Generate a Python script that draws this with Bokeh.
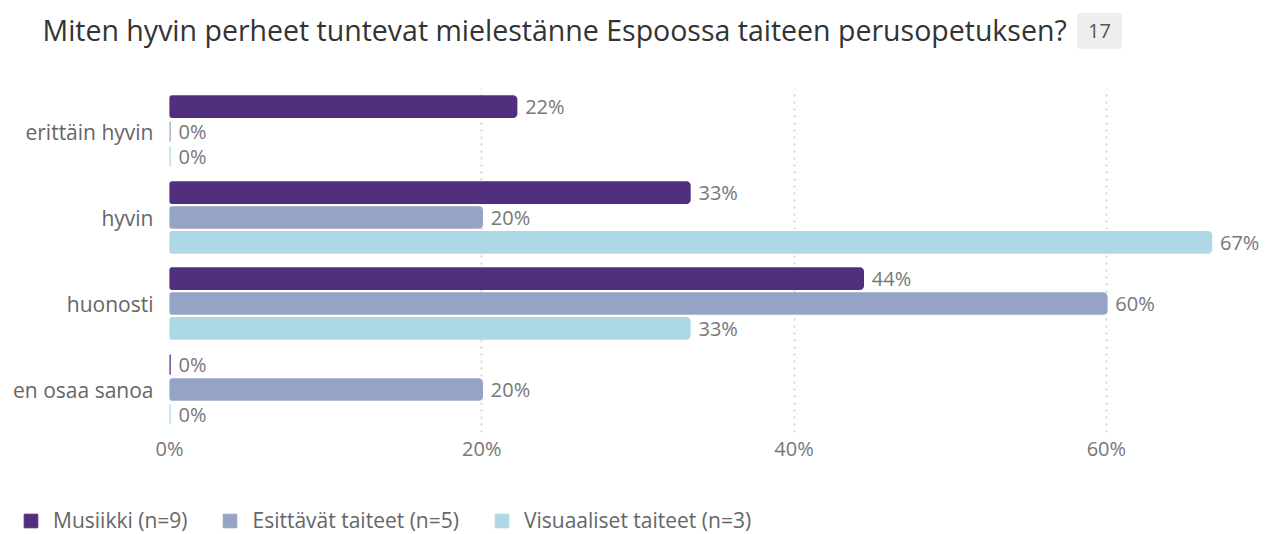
from bokeh.plotting import figure
from bokeh.layouts import column
from bokeh.models import (ColumnDataSource, FactorRange, Range1d, FixedTicker,
                          NumeralTickFormatter, Label, Legend, LegendItem)
from bokeh.transform import dodge
from bokeh.core.properties import value
from bokeh.embed import file_html
from bokeh.resources import INLINE

title_text = "Miten hyvin perheet tuntevat mielestänne Espoossa taiteen perusopetuksen?"
respondents = "17"
categories = ["erittäin hyvin", "hyvin", "huonosti", "en osaa sanoa"]
series_names = ["Musiikki (n=9)", "Esittävät taiteet (n=5)", "Visuaaliset taiteet (n=3)"]
musiikki = [0.222, 0.333, 0.444, 0.0]
esittavat = [0.0, 0.20, 0.60, 0.20]
visuaaliset = [0.0, 0.667, 0.333, 0.0]
series_values = [musiikki, esittavat, visuaaliset]
x_ticks = [0, 0.2, 0.4, 0.6]

colors = ["#512f7f", "#95a4c5", "#add8e6"]
offsets = [0.29, 0.0, -0.29]
FONT = "Open Sans"
W = 1264


def blank(fig):
    fig.axis.visible = False
    fig.grid.grid_line_color = None
    fig.outline_line_color = None
    fig.background_fill_color = "white"
    fig.border_fill_color = "white"


# ---- title strip ----
t = figure(width=W, height=88, output_backend="svg", toolbar_location=None,
           x_range=Range1d(0, W), y_range=Range1d(0, 88), min_border=0,
           frame_align=False)
blank(t)
t.add_layout(Label(x=42, y=59, text=title_text, text_font=FONT,
                   text_font_size="28.5px", text_color="#333333",
                   text_baseline="alphabetic"))
t.add_layout(Label(x=1099, y=57.5, text=respondents, text_font=FONT,
                   text_font_size="20px", text_color="#555555",
                   text_align="center", text_baseline="alphabetic",
                   background_fill_color="#eeeeee", padding=11,
                   border_radius=3))

# ---- main chart ----
p = figure(width=W, height=390, output_backend="svg", toolbar_location=None,
           y_range=FactorRange(*reversed(categories)), x_range=Range1d(0, 0.7013),
           min_border_left=169, min_border_right=0, min_border_top=0,
           min_border_bottom=46, frame_align=False)
p.outline_line_color = None
p.background_fill_color = "white"
p.border_fill_color = "white"

# ---- legend strip ----
lg = figure(width=W, height=56, output_backend="svg", toolbar_location=None,
            x_range=Range1d(0, W), y_range=Range1d(0, 56), min_border=0,
            frame_align=False)
blank(lg)

items = []
for name, vals, col, off in zip(series_names, series_values, colors, offsets):
    src = ColumnDataSource(dict(cat=categories, val=vals,
                                lab=[f"{round(v * 100)}%" for v in vals]))
    p.hbar(y=dodge("cat", off, range=p.y_range), right="val", left=0,
           height=0.235, source=src, fill_color=col, line_color=col,
           line_width=2.5, border_radius=3)
    p.text(x="val", y=dodge("cat", off, range=p.y_range), text="lab", source=src,
           x_offset=9, text_baseline="middle", text_align="left",
           text_font=value(FONT), text_font_size="20px", text_color="#777777")
    # hidden copy of the series in the legend strip, used only as legend key
    r = lg.hbar(y="val", right="val", left=0, height=0.01, source=src,
                fill_color=col, line_color=col, visible=False)
    items.append(LegendItem(label=name, renderers=[r]))

p.xaxis.ticker = FixedTicker(ticks=x_ticks)
p.xaxis.formatter = NumeralTickFormatter(format="0%")
p.xaxis.axis_line_color = None
p.xaxis.major_tick_line_color = None
p.xaxis.minor_tick_line_color = None
p.xaxis.major_tick_out = 0
p.xaxis.major_label_standoff = 2
p.xaxis.major_label_text_font = FONT
p.xaxis.major_label_text_font_size = "20px"
p.xaxis.major_label_text_color = "#777777"

p.yaxis.axis_line_color = None
p.yaxis.major_tick_line_color = None
p.yaxis.major_tick_out = 0
p.yaxis.major_label_standoff = 16
p.yaxis.major_label_text_font = FONT
p.yaxis.major_label_text_font_size = "21px"
p.yaxis.major_label_text_color = "#666666"

p.ygrid.grid_line_color = None
p.xgrid.ticker = FixedTicker(ticks=x_ticks)
p.xgrid.grid_line_color = "#d4d4d4"
p.xgrid.grid_line_dash = "2 5"
p.xgrid.grid_line_width = 2

legend = Legend(items=items, orientation="horizontal", location=(22, 0),
                glyph_width=17, glyph_height=17, label_standoff=14, spacing=34,
                padding=0, margin=0, border_line_color=None,
                background_fill_alpha=0, inactive_fill_alpha=0,
                label_text_font=FONT, label_text_font_size="21px",
                label_text_color="#666666", label_height=17)
lg.add_layout(legend)

layout = column(t, p, lg, spacing=0)
open("out.html", "w").write(file_html(layout, INLINE))
